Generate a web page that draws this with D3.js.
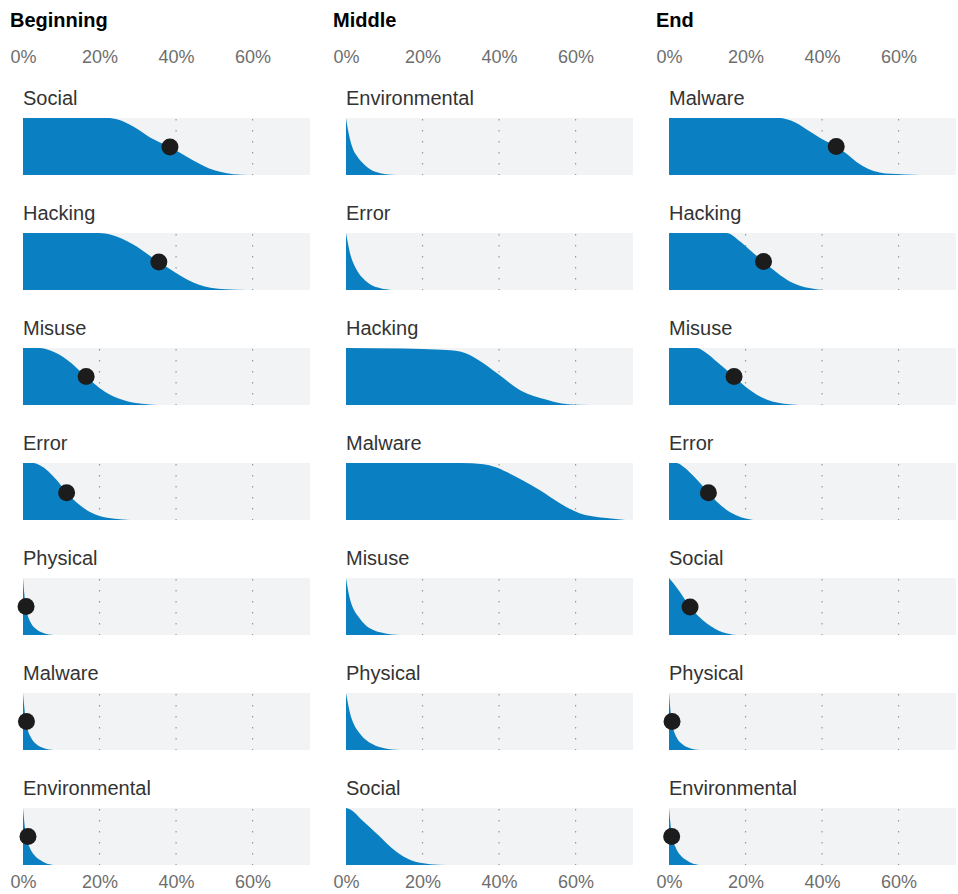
<!DOCTYPE html>
<html>
<head>
<meta charset="utf-8">
<script src="https://cdn.jsdelivr.net/npm/d3@7"></script>
<style>
  body { margin: 0; background: #fff; }
  text { font-family: "Liberation Sans", Arial, sans-serif; }
</style>
</head>
<body>
<svg id="chart" width="958" height="894"></svg>
<script>
// column headers
const columns = ["Beginning", "Middle", "End"];

// panel labels, top to bottom
const beginningLabels = ["Social", "Hacking", "Misuse", "Error", "Physical", "Malware", "Environmental"];
const middleLabels = ["Environmental", "Error", "Hacking", "Malware", "Misuse", "Physical", "Social"];
const endLabels = ["Malware", "Hacking", "Misuse", "Error", "Social", "Physical", "Environmental"];

// curves: [percent, share remaining]
const beginningCurves = [
  [[0,1],[22,1],[25,0.97],[28.8,0.85],[33.2,0.66],[38.4,0.49],[42.8,0.32],[46,0.2],[48.5,0.12],[51.5,0.055],[55,0.015],[59,0]],
  [[0,1],[20,1],[23,0.97],[28.8,0.8],[35.5,0.49],[40,0.3],[43,0.18],[46,0.09],[49,0.04],[53,0.012],[58.5,0]],
  [[0,1],[4.4,1],[7,0.96],[11.4,0.8],[16.5,0.5],[20,0.3],[23,0.17],[27,0.07],[31,0.02],[35,0]],
  [[0,1],[2.7,1],[4.4,0.96],[8.8,0.7],[11.4,0.48],[14.9,0.26],[17.5,0.14],[20,0.07],[24,0.02],[28,0]],
  [[0,1],[0.3,0.75],[0.7,0.5],[1.2,0.35],[2,0.22],[3.5,0.1],[5.5,0.03],[8,0]],
  [[0,1],[0.3,0.78],[0.7,0.52],[1.2,0.36],[2,0.23],[3.5,0.1],[5.5,0.03],[8,0]],
  [[0,1],[0.3,0.78],[0.8,0.5],[1.8,0.3],[3,0.17],[4.4,0.09],[6,0.03],[8,0]]
];
const middleCurves = [
  [[0,1],[0.5,0.8],[1,0.64],[1.8,0.46],[3,0.32],[4.5,0.2],[6.3,0.1],[9,0.03],[13,0]],
  [[0,1],[0.5,0.82],[1,0.66],[2,0.46],[3,0.33],[4.5,0.2],[6.5,0.09],[9,0.03],[12,0]],
  [[0,1],[15,0.99],[25,0.97],[29.8,0.94],[31.6,0.9],[35,0.77],[39.4,0.56],[45.5,0.26],[52.5,0.09],[56,0.03],[60,0.005],[68,0]],
  [[0,1],[30,1],[35.9,0.98],[39,0.93],[42,0.84],[46,0.7],[50.7,0.52],[56,0.29],[61,0.12],[64,0.07],[68,0.035],[73,0]],
  [[0,1],[0.5,0.8],[1,0.64],[2,0.45],[3.5,0.3],[5,0.18],[7,0.09],[10,0.03],[14,0]],
  [[0,1],[0.5,0.82],[1,0.66],[2,0.46],[3.5,0.3],[5,0.19],[7,0.1],[10,0.03],[14,0]],
  [[0,1],[1,0.98],[1.9,0.94],[4,0.8],[6.3,0.66],[8.5,0.52],[10.6,0.38],[13,0.24],[15,0.15],[17,0.085],[19.3,0.04],[22,0.015],[26,0]]
];
const endCurves = [
  [[0,1],[29,1],[32,0.95],[36,0.8],[39.5,0.65],[43.7,0.5],[46.5,0.37],[49,0.23],[52,0.11],[55,0.045],[58,0.02],[65.6,0]],
  [[0,1],[15,1],[18.6,0.85],[21.5,0.68],[24.7,0.5],[27.5,0.34],[30.8,0.18],[34,0.08],[37,0.03],[40,0]],
  [[0,1],[7.2,1],[10,0.9],[12.5,0.76],[17,0.5],[20,0.32],[23.8,0.15],[27,0.06],[30,0.02],[34,0]],
  [[0,1],[2,1],[4,0.92],[6.4,0.77],[10.3,0.48],[12.5,0.32],[15,0.18],[18,0.07],[22,0]],
  [[0,1],[1,0.92],[2.9,0.75],[5.5,0.49],[7.5,0.34],[9.9,0.2],[12,0.11],[14,0.05],[17.7,0]],
  [[0,1],[0.3,0.75],[0.7,0.5],[1.2,0.35],[2,0.22],[3.5,0.1],[5.5,0.03],[8,0]],
  [[0,1],[0.3,0.78],[0.8,0.5],[1.8,0.3],[3,0.17],[4.4,0.09],[6,0.03],[8,0]]
];

// dots: [percent, share], null = no dot
const beginningDots = [[38.4,0.49],[35.5,0.49],[16.5,0.5],[11.4,0.48],[0.8,0.5],[0.9,0.5],[1.3,0.5]];
const middleDots = [null, null, null, null, null, null, null];
const endDots = [[43.7,0.5],[24.7,0.5],[17,0.5],[10.3,0.48],[5.5,0.49],[0.8,0.5],[0.7,0.5]];

const tickValues = [0, 20, 40, 60];

const svg = d3.select("#chart");
const colX = [23, 346, 669];
const panelW = 287;
const firstTop = 118, rowStep = 115, bandH = 57;

const x = d3.scaleLinear().domain([0, 75]).range([0, panelW]);
const y = d3.scaleLinear().domain([0, 1]).range([bandH, 0]);

const area = d3.area()
    .x(d => x(d[0]))
    .y0(bandH)
    .y1(d => y(d[1]))
    .curve(d3.curveMonotoneX);

const colData = [
  { labels: beginningLabels, curves: beginningCurves, dots: beginningDots },
  { labels: middleLabels, curves: middleCurves, dots: middleDots },
  { labels: endLabels, curves: endCurves, dots: endDots }
];

colData.forEach((col, ci) => {
  const g = svg.append("g").attr("transform", `translate(${colX[ci]},0)`);

  // header
  g.append("text")
    .attr("x", -13)
    .attr("y", 27)
    .style("font-size", "20px")
    .style("font-weight", "bold")
    .attr("fill", "#000")
    .text(columns[ci]);

  // top and bottom axes
  const fmt = d => d + "%";
  const topAxis = g.append("g").attr("transform", "translate(0,63)")
    .call(d3.axisTop(x).tickValues(tickValues).tickFormat(fmt).tickSize(0).tickPadding(0));
  const botAxis = g.append("g").attr("transform", "translate(0,875)")
    .call(d3.axisBottom(x).tickValues(tickValues).tickFormat(fmt).tickSize(0).tickPadding(0));
  [topAxis, botAxis].forEach(a => {
    a.select(".domain").remove();
    a.selectAll("text")
      .style("font-size", "18px")
      .style("font-family", "'Liberation Sans', Arial, sans-serif")
      .attr("fill", "#6e6e6e");
  });

  col.labels.forEach((label, ri) => {
    const top = firstTop + ri * rowStep;
    const p = g.append("g").attr("transform", `translate(0,${top})`);

    p.append("text")
      .attr("x", 0)
      .attr("y", -13)
      .style("font-size", "20px")
      .attr("fill", "#333")
      .text(label);

    p.append("rect")
      .attr("x", 0)
      .attr("y", 0)
      .attr("width", panelW)
      .attr("height", bandH)
      .attr("fill", "#f1f3f5");

    p.selectAll(".grid")
      .data(tickValues.slice(1))
      .enter()
      .append("line")
      .attr("class", "grid")
      .attr("x1", d => x(d))
      .attr("x2", d => x(d))
      .attr("y1", 1)
      .attr("y2", bandH)
      .attr("stroke", "#999")
      .attr("stroke-width", 1.2)
      .attr("stroke-dasharray", "1.5,9.5");

    p.append("path")
      .datum(col.curves[ri])
      .attr("d", area)
      .attr("fill", "#0a80c2");

    const dot = col.dots[ri];
    if (dot) {
      p.append("circle")
        .attr("cx", x(dot[0]))
        .attr("cy", y(dot[1]))
        .attr("r", 8.5)
        .attr("fill", "#1c1c1c");
    }
  });
});
</script>
</body>
</html>
